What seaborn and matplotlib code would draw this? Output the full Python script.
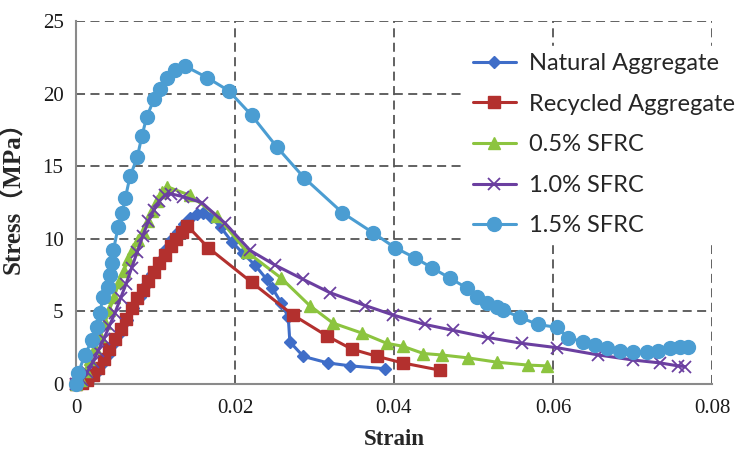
import matplotlib
matplotlib.use("Agg")
import matplotlib.pyplot as plt
import seaborn as sns
import pandas as pd

# Stress-strain curves (strain, stress in MPa)
natural_strain = [0, 0.0008, 0.0016, 0.0024, 0.0032, 0.0040, 0.0048, 0.0056, 0.0064, 0.0072,
                  0.0080, 0.0088, 0.0096, 0.0104, 0.0112, 0.0120, 0.0128, 0.0136, 0.0144, 0.0152,
                  0.0160, 0.0170, 0.0182, 0.0196, 0.0210, 0.0225, 0.0240, 0.0247, 0.0258, 0.0267,
                  0.0269, 0.0286, 0.0317, 0.0345, 0.0389]
natural_stress = [0, 0.1, 0.3, 0.7, 1.3, 2.0, 2.8, 3.6, 4.4, 5.2,
                  6.0, 6.8, 7.6, 8.4, 9.2, 9.9, 10.5, 11.0, 11.4, 11.7,
                  11.8, 11.5, 10.8, 9.8, 9.0, 8.2, 7.2, 6.6, 5.6, 4.6,
                  2.9, 1.9, 1.45, 1.25, 1.05]

recycled_strain = [0, 0.0007, 0.0014, 0.0021, 0.0028, 0.0035, 0.0042, 0.0049, 0.0056, 0.0063,
                   0.0070, 0.0077, 0.0084, 0.0091, 0.0098, 0.0105, 0.0112, 0.0119, 0.0126, 0.0133,
                   0.0140, 0.0166, 0.0221, 0.0273, 0.0316, 0.0347, 0.0379, 0.0411, 0.0458]
recycled_stress = [0, 0.1, 0.3, 0.6, 1.1, 1.7, 2.4, 3.1, 3.8, 4.5,
                   5.2, 5.9, 6.5, 7.1, 7.7, 8.3, 8.9, 9.5, 10.0, 10.5,
                   10.9, 9.4, 7.0, 4.75, 3.3, 2.4, 1.9, 1.45, 0.95]

sfrc05_strain = [0, 0.0006, 0.0012, 0.0018, 0.0024, 0.0030, 0.0036, 0.0042, 0.0048, 0.0054,
                 0.0060, 0.0066, 0.0072, 0.0078, 0.0084, 0.0090, 0.0096, 0.0102, 0.0108, 0.0114,
                 0.0143, 0.0177, 0.0215, 0.0258, 0.0294, 0.0323, 0.0360, 0.0391, 0.0411, 0.0437,
                 0.0460, 0.0493, 0.0530, 0.0569, 0.0592]
sfrc05_stress = [0, 0.3, 0.9, 1.7, 2.5, 3.3, 4.2, 5.1, 6.0, 7.0,
                 7.8, 8.6, 9.3, 9.9, 10.5, 11.2, 11.9, 12.6, 13.2, 13.6,
                 13.0, 11.6, 9.1, 7.3, 5.4, 4.2, 3.5, 2.8, 2.6, 2.1,
                 2.0, 1.8, 1.5, 1.3, 1.25]

sfrc10_strain = [0, 0.0007, 0.0014, 0.0021, 0.0028, 0.0035, 0.0042, 0.0049, 0.0056, 0.0063,
                 0.0070, 0.0077, 0.0084, 0.0091, 0.0098, 0.0105, 0.0112, 0.0119, 0.0135, 0.0158,
                 0.0187, 0.0219, 0.0250, 0.0286, 0.0319, 0.0364, 0.0399, 0.0439, 0.0474, 0.0518,
                 0.0561, 0.0605, 0.0657, 0.0701, 0.0735, 0.0757, 0.0766]
sfrc10_stress = [0, 0.3, 0.8, 1.5, 2.3, 3.1, 4.0, 4.9, 5.9, 6.9,
                 8.0, 9.1, 10.2, 11.2, 12.0, 12.6, 13.0, 13.1, 12.9, 12.5,
                 11.1, 9.2, 8.2, 7.2, 6.3, 5.4, 4.75, 4.1, 3.7, 3.2,
                 2.8, 2.5, 2.0, 1.65, 1.45, 1.25, 1.2]

sfrc15_strain = [0, 0.0003, 0.0011, 0.0020, 0.0026, 0.0030, 0.0034, 0.0040, 0.0043, 0.0045,
                 0.0047, 0.0053, 0.0058, 0.0062, 0.0068, 0.0077, 0.0083, 0.0089, 0.0098, 0.0106,
                 0.0114, 0.0125, 0.0137, 0.0165, 0.0192, 0.0221, 0.0253, 0.0287, 0.0335, 0.0374,
                 0.0401, 0.0426, 0.0448, 0.0470, 0.0492, 0.0504, 0.0517, 0.0530, 0.0537, 0.0558,
                 0.0581, 0.0605, 0.0619, 0.0638, 0.0653, 0.0668, 0.0684, 0.0701, 0.0718, 0.0732,
                 0.0747, 0.0760, 0.0770]
sfrc15_stress = [0, 0.76, 2.0, 3.0, 3.9, 4.9, 6.0, 6.7, 7.5, 8.3,
                 9.2, 10.8, 11.8, 12.8, 14.3, 15.6, 17.1, 18.4, 19.6, 20.3,
                 21.1, 21.6, 21.9, 21.1, 20.2, 18.5, 16.3, 14.2, 11.8, 10.4,
                 9.4, 8.7, 8.0, 7.3, 6.6, 6.0, 5.6, 5.3, 5.1, 4.6,
                 4.1, 3.9, 3.2, 2.9, 2.7, 2.5, 2.3, 2.2, 2.2, 2.3,
                 2.5, 2.55, 2.55]

series_names = ["Natural Aggregate", "Recycled Aggregate", "0.5% SFRC", "1.0% SFRC", "1.5% SFRC"]
x_ticks = [0, 0.02, 0.04, 0.06, 0.08]
x_tick_labels = ["0", "0.02", "0.04", "0.06", "0.08"]
y_ticks = [0, 5, 10, 15, 20, 25]

series_data = [
    (natural_strain, natural_stress),
    (recycled_strain, recycled_stress),
    (sfrc05_strain, sfrc05_stress),
    (sfrc10_strain, sfrc10_stress),
    (sfrc15_strain, sfrc15_stress),
]

styles = {
    "Natural Aggregate": dict(color="#3F6DC8", marker="D", markersize=6.5),
    "Recycled Aggregate": dict(color="#B3302E", marker="s", markersize=8.5),
    "0.5% SFRC": dict(color="#8CC43F", marker="^", markersize=9),
    "1.0% SFRC": dict(color="#6B3FA0", marker="x", markersize=9, markeredgewidth=1.3),
    "1.5% SFRC": dict(color="#4B9DD2", marker="o", markersize=10),
}

sns.set_style("white")
plt.rcParams["font.family"] = ["Liberation Serif", "Noto Sans CJK SC"]

fig = plt.figure(figsize=(7.41, 4.5), dpi=100)
ax = fig.add_axes([76 / 741, 1 - 384 / 450, (712 - 76) / 741, (384 - 21) / 450])

for name, (xs, ys) in zip(series_names, series_data):
    df = pd.DataFrame({"Strain": xs, "Stress": ys})
    st = styles[name]
    sns.lineplot(data=df, x="Strain", y="Stress", ax=ax, sort=False, estimator=None,
                 label=name, color=st["color"], linewidth=2.2,
                 marker=st["marker"], markersize=st["markersize"],
                 markeredgecolor=st["color"], markerfacecolor=st["color"],
                 markeredgewidth=st.get("markeredgewidth", 1.0), clip_on=False, zorder=3)

ax.set_xlim(0, 0.08)
ax.set_ylim(0, 25)
ax.set_xticks(x_ticks)
ax.set_xticklabels(x_tick_labels)
ax.set_yticks(y_ticks)
ax.tick_params(axis="x", length=0, labelsize=15, colors="#1a1a1a", pad=11)
ax.tick_params(axis="y", length=0, labelsize=15, colors="#1a1a1a", pad=9)

ax.grid(True, linestyle=(0, (5, 3)), color="#555555", linewidth=1.3)
ax.set_axisbelow(True)
for side in ["top", "right"]:
    ax.spines[side].set_visible(False)
for side in ["left", "bottom"]:
    ax.spines[side].set_color("#8a8a8a")
    ax.spines[side].set_linewidth(1.5)

ax.set_xlabel("Strain", fontsize=16.5, fontweight="bold", labelpad=8)
ax.set_ylabel("Stress（MPa）", fontsize=18, fontweight="bold")
ax.yaxis.set_label_coords(-0.080, 0.53)

leg = ax.legend(loc="upper left", bbox_to_anchor=(466 / 741, 1 - 46 / 450),
                bbox_transform=fig.transFigure, frameon=True, framealpha=1.0,
                facecolor="white", edgecolor="white", fancybox=False,
                prop={"family": "Lato", "size": 17}, handlelength=1.8,
                handletextpad=0.55, labelspacing=0.83, borderpad=0.3, borderaxespad=0)
leg.set_zorder(5)

fig.savefig("out.png", dpi=100)
